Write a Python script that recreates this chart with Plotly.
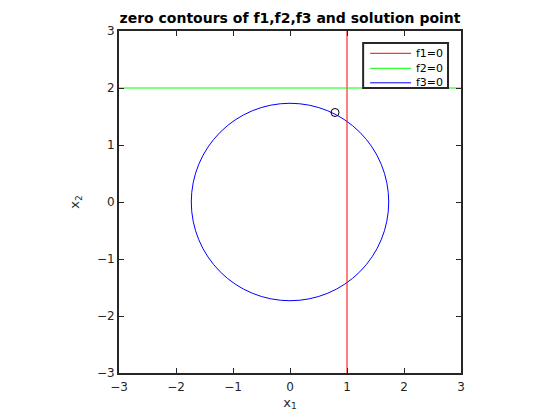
import plotly.graph_objects as go

# data
f1_x = 1.0            # f1 = 0  -> x1 = 1
f2_y = 2.0            # f2 = 0  -> x2 = 2
f3_radius = 1.732     # f3 = 0  -> circle radius
solution_x = [0.79]
solution_y = [1.57]
axis_range = [-3, 3]
tick_vals = [-3, -2, -1, 0, 1, 2, 3]
tick_text = ["\u22123", "\u22122", "\u22121", "0", "1", "2", "3"]
legend_names = ["f1=0", "f2=0", "f3=0"]
legend_colors = ["#ff0000", "#00ff00", "#0000ff"]

font = "DejaVu Sans"
axc = "#262626"

# page has an 8px body margin; plot area in page pixels
PX0, PX1, PY0, PY1 = 118.5, 461.0, 31.0, 373.0


def px(p):
    return (p - PX0) / (PX1 - PX0)


def py(p):
    return (PY1 - p) / (PY1 - PY0)


fig = go.Figure()
fig.add_shape(type="circle", xref="x", yref="y",
              x0=-f3_radius, x1=f3_radius, y0=-f3_radius, y1=f3_radius,
              line=dict(color=legend_colors[2], width=1), layer="below")
fig.add_trace(go.Scatter(x=[f1_x, f1_x], y=axis_range, mode="lines",
                         line=dict(color=legend_colors[0], width=1), name=legend_names[0]))
fig.add_trace(go.Scatter(x=axis_range, y=[f2_y, f2_y], mode="lines",
                         line=dict(color=legend_colors[1], width=1), name=legend_names[1]))
fig.add_trace(go.Scatter(x=solution_x, y=solution_y, mode="markers",
                         marker=dict(symbol="circle-open", size=8,
                                     color="black", line=dict(width=1)),
                         name="solution"))

# custom legend (MATLAB style, compact rows)
fig.add_shape(type="rect", xref="paper", yref="paper",
              x0=px(363), x1=px(448), y0=py(88), y1=py(43),
              line=dict(color=axc, width=2), fillcolor="white", layer="above")
rows = [53.3, 68.3, 82.8]
for name, col, ry in zip(legend_names, legend_colors, rows):
    fig.add_shape(type="line", xref="paper", yref="paper",
                  x0=px(370), x1=px(411), y0=py(ry), y1=py(ry),
                  line=dict(color=col, width=1), layer="above")
    fig.add_annotation(xref="paper", yref="paper", x=px(414), y=py(ry),
                       xanchor="left", yanchor="middle", showarrow=False,
                       text=name, font=dict(family=font, size=11, color="black"))

axis_common = dict(range=axis_range, tickvals=tick_vals, ticktext=tick_text,
                   ticks="inside", ticklen=5, tickcolor=axc, mirror="ticks",
                   showline=True, linecolor=axc, linewidth=2,
                   showgrid=False, zeroline=False,
                   tickfont=dict(family=font, size=12, color=axc))

W, H = 552, 412
fig.update_layout(
    width=W, height=H, autosize=False,
    paper_bgcolor="white", plot_bgcolor="white",
    margin=dict(l=PX0 - 8, r=W - (PX1 - 8), t=PY0 - 8, b=H - (PY1 - 8)),
    title=dict(text="<b>zero contours of f1,f2,f3 and solution point</b>",
               x=(290 - 8) / W, xanchor="center",
               y=1 - (18 - 8) / H, yanchor="middle",
               font=dict(family=font, size=14, color="black")),
    xaxis=dict(**axis_common, ticklabelstandoff=2,
               title=dict(text="x<sub>1</sub>", standoff=4,
                          font=dict(family=font, size=13, color=axc))),
    yaxis=dict(**axis_common,
               title=dict(text="x<sub>2</sub>", standoff=14,
                          font=dict(family=font, size=13, color=axc))),
    showlegend=False,
)

fig.write_html("out.html")
